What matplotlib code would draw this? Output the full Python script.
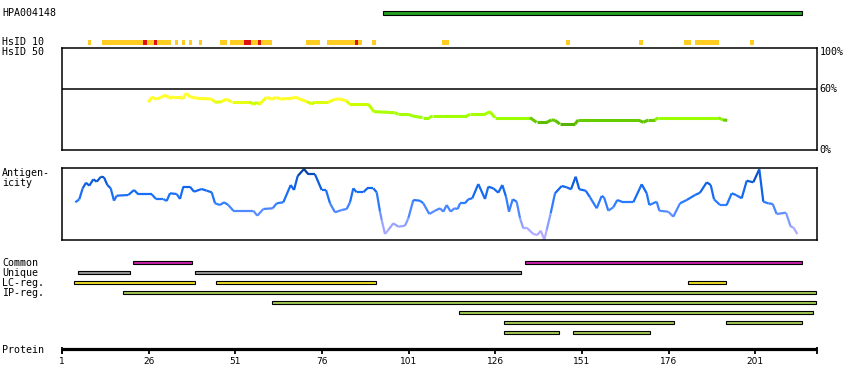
import matplotlib
matplotlib.use("Agg")
import matplotlib.pyplot as plt
from matplotlib.collections import LineCollection
from matplotlib.colors import LinearSegmentedColormap, Normalize
from matplotlib.patches import Rectangle
import numpy as np

# ---------------- data ----------------
protein_length = 218.7
antibody_name = "HPA004148"
antibody_range = (94, 214)

hsid10_yellow = [(9, 9), (13, 32), (34, 34), (36, 36), (38, 38), (41, 41), (47, 48),
                 (50, 61), (72, 75), (78, 87), (91, 91), (111, 112), (147, 147),
                 (168, 168), (181, 182), (184, 190), (200, 200)]
hsid10_red = [(25, 25), (28, 28), (54, 55), (58, 58), (86, 86)]

identity_res = [25.9, 26.9, 28.3, 29.3, 31.0, 31.9, 33.1, 35.0, 35.8, 36.8, 37.9, 39.9,
                44.2, 45.1, 47.1, 48.3, 49.9, 55.2, 56.2, 57.2, 57.9, 60.0, 61.5, 62.9,
                63.9, 67.3, 68.2, 69.6, 71.6, 73.0, 74.0, 77.8, 79.7, 81.2, 83.1, 83.9,
                89.3, 91.0, 97.0, 98.0, 100.9, 102.2, 105.0, 106.9, 107.9, 117.7, 118.7,
                123.0, 124.4, 125.9, 136.0, 137.9, 140.8, 142.2, 143.2, 144.6, 149.0,
                149.9, 167.2, 168.7, 170.1, 172.0, 173.0, 190.3, 191.7, 192.9]
identity_pct = [46.9, 51.8, 49.9, 51.4, 54.1, 50.8, 52.4, 52.4, 50.1, 55.8, 52.4, 50.8,
                50.1, 46.9, 47.5, 49.9, 47.5, 47.5, 44.9, 46.9, 44.9, 51.8, 50.1, 51.8,
                50.1, 50.8, 52.1, 50.1, 47.5, 45.5, 46.9, 46.9, 49.9, 50.1, 48.2, 45.2,
                45.2, 37.7, 36.7, 35.1, 35.1, 33.4, 31.8, 31.8, 33.4, 33.4, 35.1,
                35.1, 37.7, 31.8, 31.8, 27.2, 27.2, 29.5, 29.2, 25.6, 25.6,
                29.5, 29.5, 27.2, 29.5, 29.5, 31.8, 31.8, 29.5, 29.2]

antigen_res = [4.84, 5.99, 6.97, 7.92, 8.88, 10.03, 11.01, 12.25, 13.12, 14.07, 15.05, 16.0,
               16.78, 20.13, 21.77, 23.01, 26.88, 28.12, 30.22, 31.2, 32.15, 34.09, 35.04,
               35.99, 37.92, 39.08, 41.3, 42.74, 44.18, 45.14, 46.58, 47.73, 48.97, 50.41,
               56.18, 57.34, 59.07, 61.78, 62.93, 64.84, 66.97, 67.92, 68.99, 70.81, 72.05,
               73.98, 75.91, 77.15, 78.31, 79.75, 81.68, 83.12, 84.08, 85.03, 86.01, 87.91,
               89.07, 90.8, 91.78, 92.73, 93.22, 94.17, 95.12, 96.57, 98.01, 99.94, 100.9,
               102.34, 104.27, 105.22, 106.95, 108.6, 110.04, 111.0, 111.97, 113.13, 114.17,
               115.15, 115.81, 117.25, 118.2, 119.35, 121.09, 123.02, 123.97, 125.41, 126.86,
               128.01, 129.08, 129.94, 131.01, 132.16, 133.12, 134.07, 135.05, 136.95, 138.11,
               139.09, 140.13, 140.82, 141.97, 143.21, 145.15, 146.59, 147.83, 149.18, 150.22,
               152.07, 153.31, 155.24, 156.68, 157.35, 158.59, 160.03, 161.18, 162.91, 165.8,
               168.22, 169.66, 170.41, 172.55, 173.3, 175.89, 177.34, 179.27, 181.2, 183.6,
               185.04, 186.97, 188.13, 189.08, 190.81, 192.74, 194.18, 195.42, 197.07, 198.51,
               200.41, 202.14, 203.3, 204.74, 206.01, 207.16, 209.84, 211.2, 211.95, 213.1]
antigen_score = [37.7, 40.7, 51.7, 57.3, 54.3, 60.7, 58.3, 63.3, 62.7, 55.0, 51.7, 39.3,
                 44.3, 45.0, 50.0, 45.7, 45.7, 41.0, 41.0, 39.0, 46.7, 46.0, 41.0,
                 53.3, 53.3, 48.3, 51.0, 49.3, 47.7, 36.7, 35.0, 37.7, 35.0, 29.3,
                 29.3, 24.3, 31.0, 31.7, 36.7, 37.7, 55.0, 50.0, 64.0, 71.0, 65.7,
                 65.7, 50.0, 50.0, 36.7, 27.7, 30.0, 31.0, 37.7, 51.7, 47.7, 47.7,
                 51.7, 51.7, 47.7, 28.3, 20.0, 6.0, 10.0, 16.7, 13.3, 14.3, 21.7,
                 40.0, 39.3, 36.7, 26.0, 29.3, 31.7, 28.3, 35.0, 28.3, 31.7,
                 31.0, 36.7, 36.7, 40.7, 41.7, 56.0, 41.0, 53.3, 51.7, 47.3,
                 55.0, 43.3, 28.3, 40.7, 38.3, 21.7, 11.7, 12.3, 6.0, 5.0,
                 9.3, 0.5, 10.0, 26.7, 46.7, 54.0, 52.7, 50.7, 63.3, 50.7,
                 49.3, 42.7, 31.7, 44.0, 42.7, 29.3, 32.7, 40.0, 37.7, 37.7,
                 55.7, 46.7, 35.0, 38.3, 29.3, 28.3, 23.3, 36.7, 40.0, 45.0,
                 47.3, 57.7, 55.0, 40.7, 35.0, 35.0, 46.7, 45.0, 41.7, 59.3,
                 57.7, 70.7, 38.3, 36.7, 36.0, 26.0, 27.3, 13.3, 12.7, 6.0]

common_regions = [(22, 38), (135, 214)]
unique_regions = [(6, 20), (40, 133)]
lc_regions = [(5, 39), (46, 91), (182, 192)]
ip_rows = [[(19, 218)], [(62, 218)], [(116, 217)], [(129, 177), (193, 214)],
           [(129, 144), (149, 170)]]
tick_values = [1, 26, 51, 76, 101, 126, 151, 176, 201]
identity_ticks = [(100, "100%"), (60, "60%"), (0, "0%")]

# ---------------- layout ----------------
W, H = 850, 390
PX0, PXR = 58.53, 3.4667          # pixel of residue 0, pixels per residue
def res_at(px):
    return (px - PX0) / PXR

fig = plt.figure(figsize=(W / 100, H / 100), dpi=100)
mono = "DejaVu Sans Mono"
fs = 7.2

ov = fig.add_axes([0, 0, 1, 1])
ov.set_xlim(res_at(0), res_at(W))
ov.set_ylim(H, 0)
ov.axis("off")

def bar(ax, s, e, yc, h, color, lw=0.8, edge="black"):
    ax.add_patch(Rectangle((s - 0.5, yc - h / 2), e - s + 1, h, facecolor=color,
                           edgecolor=edge, linewidth=lw))

# antibody bar
ov.text(res_at(2), 12.5, antibody_name, family=mono, fontsize=fs, va="center")
bar(ov, antibody_range[0], antibody_range[1], 12.5, 4.0, "#22a022")

# HsID track
ov.text(res_at(2), 42.3, "HsID 10", family=mono, fontsize=fs, va="center")
ov.text(res_at(2), 52.3, "HsID 50", family=mono, fontsize=fs, va="center")
for s, e in hsid10_yellow:
    bar(ov, s, e, 42.3, 4.7, "#ffcc22", lw=0, edge="none")
for s, e in hsid10_red:
    bar(ov, s, e, 42.3, 4.7, "#dd1111", lw=0, edge="none")

# identity panel
ax1 = fig.add_axes([62 / W, 1 - 150 / H, (817 - 62) / W, (150 - 48.3) / H])
ax1.set_xlim(res_at(62), res_at(817))
ax1.set_ylim(0, 100)
ax1.set_xticks([]); ax1.set_yticks([])
for sp in ax1.spines.values():
    sp.set_linewidth(1.1)
ax1.axhline(60, color="black", lw=1.1)
id_cmap = LinearSegmentedColormap.from_list(
    "id", [(0.0, "#55b000"), (0.15, "#66cc00"), (0.2, "#99ff00"), (0.4, "#aaff00"),
           (0.7, "#ccff00"), (0.8, "#ffff22"), (1.0, "#ffff33")])
pts = np.column_stack([identity_res, identity_pct])
segs = np.stack([pts[:-1], pts[1:]], axis=1)
vals = (np.array(identity_pct[:-1]) + np.array(identity_pct[1:])) / 2
lc = LineCollection(segs, cmap=id_cmap, norm=Normalize(25, 55), linewidths=2.2,
                    capstyle="butt")
lc.set_array(vals)
ax1.add_collection(lc)
for v, lab in identity_ticks:
    yy = 150 - v / 100 * (150 - 48.3)
    if v == 100:
        yy = 52
    ov.text(res_at(819.5), yy, lab, family=mono, fontsize=fs, va="center")

# antigenicity panel
ov.text(res_at(2), 173, "Antigen-", family=mono, fontsize=fs, va="center")
ov.text(res_at(2), 183.5, "icity", family=mono, fontsize=fs, va="center")
ax2 = fig.add_axes([62 / W, 1 - 240 / H, (817 - 62) / W, (240 - 168.3) / H])
ax2.set_xlim(res_at(62), res_at(817))
ax2.set_ylim(0, 71.7)
ax2.set_xticks([]); ax2.set_yticks([])
for sp in ax2.spines.values():
    sp.set_linewidth(1.1)
ag_cmap = LinearSegmentedColormap.from_list(
    "ag", [(0.0, "#bbaaff"), (0.14, "#aaaaff"), (0.3, "#7799ff"), (0.42, "#4d88ff"),
           (0.55, "#2277ff"), (0.72, "#1166ee"), (0.88, "#0a55cc"), (1.0, "#003388")])
pts = np.column_stack([antigen_res, antigen_score])
segs = np.stack([pts[:-1], pts[1:]], axis=1)
vals = (np.array(antigen_score[:-1]) + np.array(antigen_score[1:])) / 2
lc2 = LineCollection(segs, cmap=ag_cmap, norm=Normalize(0, 72), linewidths=1.6)
lc2.set_array(vals)
lc2.set_clip_on(False)
ax2.add_collection(lc2)

# region bars
rows = [("Common", 263, common_regions, "#cc22aa"),
        ("Unique", 273, unique_regions, "#999999"),
        ("LC-reg.", 283, lc_regions, "#eedd22")]
for lab, yc, regs, col in rows:
    ov.text(res_at(2), yc, lab, family=mono, fontsize=fs, va="center")
    for s, e in regs:
        bar(ov, s, e, yc - 0.5, 3.6, col)
ov.text(res_at(2), 293, "IP-reg.", family=mono, fontsize=fs, va="center")
for i, regs in enumerate(ip_rows):
    for s, e in regs:
        bar(ov, s, e, 292.5 + 10 * i, 3.6, "#a0c855")

# protein axis
ov.text(res_at(2), 350, "Protein", family=mono, fontsize=fs, va="center")
ov.plot([1, protein_length], [349.3, 349.3], color="black", lw=2.3, solid_capstyle="butt")
for t in tick_values:
    ov.plot([t, t], [349.3, 353.5], color="black", lw=1.3, solid_capstyle="butt")
    ov.text(t, 362, str(t), fontsize=6.5, ha="center", va="center")
for t in [1, protein_length]:
    ov.plot([t, t], [347.3, 353.5], color="black", lw=1.3, solid_capstyle="butt")

fig.savefig("out.png", dpi=100)
